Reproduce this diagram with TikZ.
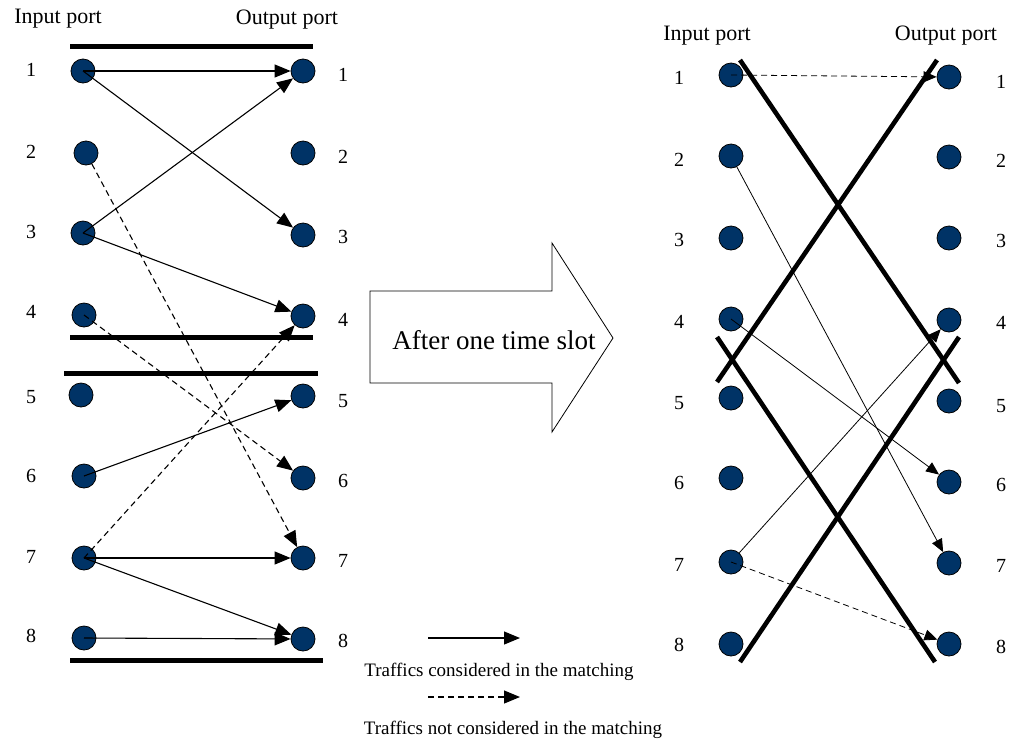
\documentclass[tikz,border=0pt]{standalone}
\usepackage{fontspec}
\setmainfont{Liberation Serif}
\usetikzlibrary{arrows.meta}
\definecolor{portblue}{RGB}{0,51,102}
\begin{document}
\begin{tikzpicture}[x=1pt,y=-1pt,
  port/.style={circle,draw=black,line width=0.8pt,fill=portblue,minimum size=24pt,inner sep=0pt},
  num/.style={font=\fontsize{20}{24}\selectfont,inner sep=0pt},
  head/.style={font=\fontsize{22}{26}\selectfont,inner sep=0pt},
  legendtext/.style={font=\fontsize{19}{22}\selectfont,inner sep=0pt},
  bar/.style={line width=5pt},
  cross/.style={line width=4.6pt},
  edge/.style={line width=1.1pt,-{Triangle[length=16pt,width=13pt]}},
  thinedge/.style={line width=0.8pt,-{Triangle[length=13pt,width=11pt]}},
  dashpat/.style={dash pattern=on 6pt off 4pt}
]
\useasboundingbox (0,0) rectangle (1010,740);

% ---------------- left panel ----------------
\node[head] (lin)  at (58,19) {Input port};
\node[head] (lout) at (287,20) {Output port};

\draw[bar] (70,46) -- (313,46);
\draw[bar] (70,337) -- (313,337);
\draw[bar] (64,373) -- (318,373);
\draw[bar] (70,660) -- (323,660);

\foreach \i/\yi/\yo/\xi in {1/71/71/83, 2/153/153/86, 3/233/235/83, 4/315/316/84,
                            5/395/396/81, 6/476/478/84, 7/558/558/84, 8/638/639/84} {
  \node[port] (li\i) at (\xi,\yi) {};
  \node[port] (lo\i) at (303,\yo) {};
}
\foreach \i/\ya/\yb in {1/70/75, 2/152/157, 3/232/237, 4/312/320,
                        5/397/401, 6/476/481, 7/557/561, 8/636/641} {
  \node[num] (lnl\i) at (31,\ya) {\i};
  \node[num] (lnr\i) at (343,\yb) {\i};
}

% traffic considered in the matching
\draw[edge] (li1.center) -- (lo1);
\draw[edge] (li1.center) -- (lo3);
\draw[edge] (li3.center) -- (lo1);
\draw[edge] (li3.center) -- (lo4);
\draw[edge] (li6.center) -- (lo5);
\draw[edge] (li7.center) -- (lo7);
\draw[edge] (li7.center) -- (lo8);
\draw[edge] (li8.center) -- (lo8);
% traffic not considered in the matching
\draw[edge,dashpat] (li2) -- (lo7);
\draw[edge,dashpat] (li4.center) -- (lo6);
\draw[edge,dashpat] (li7.center) -- (lo4);

% ---------------- transition arrow ----------------
\draw[line width=0.8pt,fill=white]
  (370,291) -- (552,291) -- (552,243) -- (613,338) -- (552,432) -- (552,383) -- (370,383) -- cycle;
\node[font=\fontsize{27}{32}\selectfont,inner sep=0pt] (slot) at (494,340) {After one time slot};

% ---------------- legend ----------------
\coordinate (ls1) at (428,638);
\coordinate (le1) at (520,638);
\coordinate (ls2) at (428,697);
\coordinate (le2) at (520,697);
\draw[edge] (ls1) -- (le1);
\draw[edge,dashpat] (ls2) -- (le2);
\node[legendtext] (lg1) at (499,672) {Traffics considered in the matching};
\node[legendtext] (lg2) at (513,730) {Traffics not considered in the matching};

% ---------------- right panel ----------------
\node[head] (rin)  at (707,36) {Input port};
\node[head] (rout) at (946,36) {Output port};

\draw[cross] (740,60) -- (959,383);
\draw[cross] (937,60) -- (717,382);
\draw[cross] (717,337) -- (935,662);
\draw[cross] (959,337) -- (740,662);

\foreach \i/\yi/\yo in {1/75/77, 2/156/157, 3/238/238, 4/319/320,
                        5/398/401, 6/478/482, 7/562/563, 8/644/644} {
  \node[port] (ri\i) at (731,\yi) {};
  \node[port] (ro\i) at (949,\yo) {};
}
\foreach \i/\ya/\yb in {1/78/82, 2/160/161, 3/240/241, 4/322/323,
                        5/403/406, 6/483/485, 7/565/566, 8/645/647} {
  \node[num] (rnl\i) at (679,\ya) {\i};
  \node[num] (rnr\i) at (1001,\yb) {\i};
}

\draw[thinedge,dashpat] (ri1.center) -- (ro1);
\draw[thinedge] (ri2) -- (ro7);
\draw[thinedge] (ri4.center) -- (ro6);
\draw[thinedge] (ri7) -- (ro4);
\draw[thinedge,dashpat] (ri7.center) -- (ro8);
\end{tikzpicture}
\end{document}
